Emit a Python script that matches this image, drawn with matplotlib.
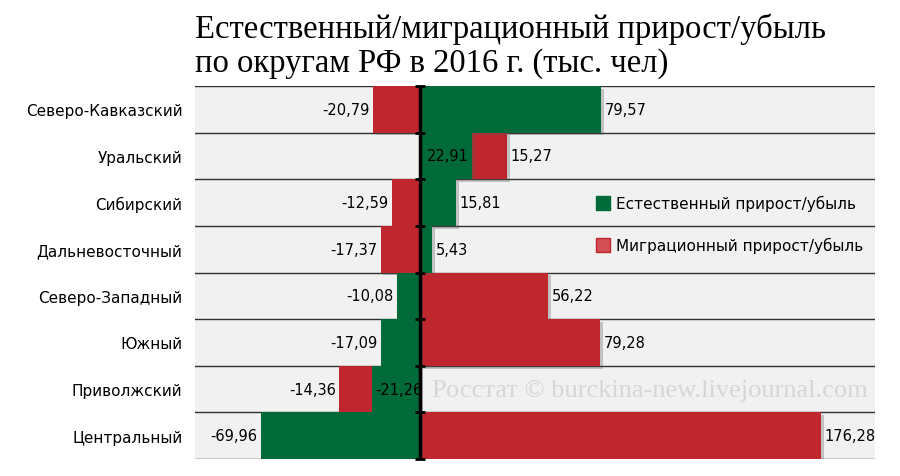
import numpy as np
import matplotlib.pyplot as plt
import matplotlib.patheffects as pe

# Данные
okruga = ['Северо-Кавказский', 'Уральский', 'Сибирский', 'Дальневосточный',
          'Северо-Западный', 'Южный', 'Приволжский', 'Центральный']
estestv = [79.57, 22.91, 15.81, 5.43, -10.08, -17.09, -21.26, -69.96]
migr = [-20.79, 15.27, -12.59, -17.37, 56.22, 79.28, -14.36, 176.28]

c_green = '#006a38'
c_red = '#c0262e'

fig = plt.figure(figsize=(9, 4.77), dpi=100)
ax = fig.add_axes([195/900, 17/477, 680/900, 373/477])
ax.set_facecolor('#f1f1f1')

y = np.arange(len(okruga))
shadow = [pe.SimplePatchShadow(offset=(2, -2), alpha=0.3, shadow_rgbFace='#555555'), pe.Normal()]

def fmt(v):
    return ('%.2f' % v).replace('.', ',')

fs = 10.5
for i in range(len(okruga)):
    g = estestv[i]
    m = migr[i]
    same = (g > 0) == (m > 0)
    left_m = g if same else 0
    ax.barh(y[i], g, height=1, color=c_green, zorder=3, path_effects=shadow)
    ax.barh(y[i], m, left=left_m, height=1, color=c_red, zorder=2, path_effects=shadow)
    # подписи
    if same:
        ax.text(g - np.sign(g) * 1.5, y[i], fmt(g), ha='right' if g > 0 else 'left',
                va='center', fontsize=fs, zorder=5)
    else:
        ax.text(g + np.sign(g) * 1.5, y[i], fmt(g), ha='left' if g > 0 else 'right',
                va='center', fontsize=fs, zorder=5)
    end_m = left_m + m
    ax.text(end_m + np.sign(m) * 1.5, y[i], fmt(m), ha='left' if m > 0 else 'right',
            va='center', fontsize=fs, zorder=5)

# линии между строками
for b in np.arange(-0.5, len(okruga), 1):
    ax.axhline(b, color='#303030', lw=1, zorder=1)
ax.axvline(0, color='black', lw=2.5, zorder=6)
ax.plot([0] * 9, np.arange(-0.5, len(okruga), 1), ls='none', marker='_', ms=7,
        mew=2, color='black', zorder=6, clip_on=False)

ax.set_xlim(-99, 200)
ax.set_ylim(len(okruga) - 0.5, -0.5)
ax.set_xticks([])
ax.set_yticks(y)
ax.set_yticklabels(okruga, fontsize=11)
ax.tick_params(axis='y', length=0, pad=9)
for s in ax.spines.values():
    s.set_visible(False)

# легенда
ax.scatter([80.5], [2], marker='s', s=100, color=c_green, zorder=5)
ax.text(86, 2, 'Естественный прирост/убыль', va='center', fontsize=11, zorder=5)
ax.scatter([80.5], [2.9], marker='s', s=90, color='#d25055', edgecolor=c_red, lw=1, zorder=5)
ax.text(86, 2.9, 'Миграционный прирост/убыль', va='center', fontsize=11, zorder=5)

# водяной знак
ax.text(5, 6.02, 'Росстат © burckina-new.livejournal.com', va='center', fontsize=19,
        family='Liberation Serif', color='#d6d6d6', zorder=4)

# заголовок
fig.text(195/900, 1 - 38/477, 'Естественный/миграционный прирост/убыль',
         ha='left', va='baseline', fontsize=23.5, family='Liberation Serif')
fig.text(195/900, 1 - 72/477, 'по округам РФ в 2016 г. (тыс. чел)',
         ha='left', va='baseline', fontsize=23.5, family='Liberation Serif')

plt.savefig('out.png', dpi=100)
